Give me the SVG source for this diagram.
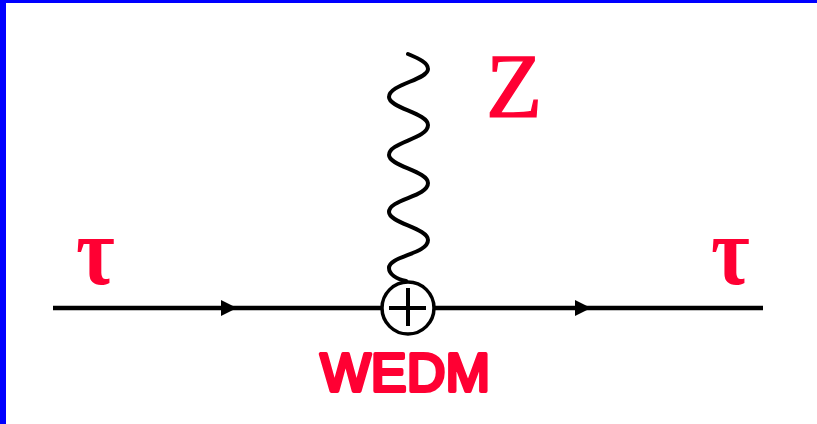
<svg xmlns="http://www.w3.org/2000/svg" width="817" height="424" viewBox="0 0 817 424">
<style>
.l{fill:none;stroke:#000;stroke-width:4.5}
.a{fill:#000;stroke:none}
.t{fill:#ff0033}
.g{font-family:"Liberation Serif",serif;font-weight:bold;font-size:84px}
</style>
<rect width="817" height="424" fill="#fff"/>
<rect width="817" height="3" fill="#0000ff"/>
<rect width="6" height="424" fill="#0000ff"/>
<g id="connectors">
<path id="line-in" class="l" d="M53 308H381"/>
<path id="line-out" class="l" d="M435 308H763"/>
<path class="a" d="M221 300L237 308L221 316Z"/>
<path class="a" d="M575 300L591 308L575 316Z"/>
<path id="boson" fill="none" stroke="#000" stroke-width="4" stroke-linecap="round" d="M408 54C420 59 428 63 428 69C428 80 389 84 389 97C389 108 428 113 428 125C428 139 389 142 389 155C389 166 428 171 428 183C428 197 389 199 389 212C389 223 428 228 428 240C428 254 389 256 389 268C389 274 396 279 406 281"/>
</g>
<g id="vertex">
<circle cx="408" cy="308" r="26" fill="#fff" stroke="#000" stroke-width="3.5"/>
<path class="l" style="stroke-width:4" d="M389 308H426M408 288V326"/>
</g>
<g id="label-z"><text class="t" x="486" y="117" font-family="Liberation Serif, serif" font-size="92" stroke="#ff0033" stroke-width="1.4">Z</text></g>
<g id="label-tau-in"><text class="t g" transform="translate(76 284) scale(1 1.17)">τ</text></g>
<g id="label-tau-out"><text class="t g" transform="translate(711 284) scale(1 1.17)">τ</text></g>
<g id="label-wedm"><text class="t" x="405.5" y="390.5" text-anchor="middle" font-family="Liberation Sans, sans-serif" font-size="53" letter-spacing="0.5" stroke="#ff0033" stroke-width="4" stroke-linejoin="round" stroke-linecap="round">WEDM</text></g>
</svg>
